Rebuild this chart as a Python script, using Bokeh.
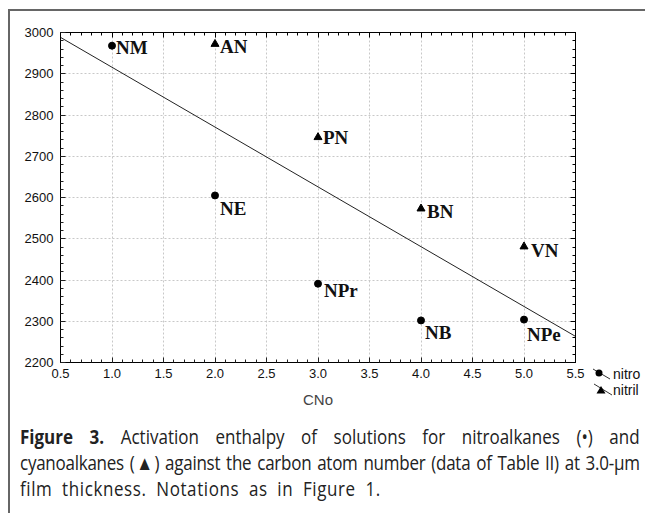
import numpy as np
from bokeh.plotting import figure
from bokeh.models import (Range1d, SingleIntervalTicker, NumeralTickFormatter, LinearAxis,
                          CustomJSTickFormatter, ColumnDataSource, Div)
from bokeh.layouts import column, row
from bokeh.core.properties import value
from bokeh.embed import file_html
from bokeh.resources import INLINE

# ---- data ----
nitro_x = [1, 2, 3, 4, 5]
nitro_y = [2968, 2605, 2391, 2302, 2304]
nitro_names = ["NM", "NE", "NPr", "NB", "NPe"]

nitril_x = [2, 3, 4, 5]
nitril_y = [2972, 2746, 2573, 2481]
nitril_names = ["AN", "PN", "BN", "VN"]

x_label = "CNo"
legend_labels = ["nitro", "nitril"]
caption_lines = [
    "<b>Figure 3.</b> Activation enthalpy of solutions for nitroalkanes (\u2022) and",
    "cyanoalkanes (\u25B2) against the carbon atom number (data of Table II) at 3.0-\u00B5m",
    "film thickness. Notations as in Figure 1.",
]

# label offsets (style, screen px)
label_offsets = {
    "NM": (4, 2), "NE": (5, 13), "NPr": (6, 7), "NB": (4, 12), "NPe": (3, 15),
    "AN": (5, 2), "PN": (5, 0), "BN": (6, 3), "VN": (7, 4),
}

X0, X1 = 0.5, 5.5
Y0, Y1 = 2200, 3000
FIG_H = 406

p = figure(width=575, height=FIG_H, output_backend="svg", toolbar_location=None,
           x_range=Range1d(X0, X1), y_range=Range1d(Y0, Y1),
           min_border_left=50, min_border_right=10, min_border_top=21, min_border_bottom=55)
p.background_fill_color = "white"
p.border_fill_color = "white"
p.outline_line_color = "black"
p.outline_line_width = 1

xt = SingleIntervalTicker(interval=0.5, num_minor_ticks=5)
yt = SingleIntervalTicker(interval=100, num_minor_ticks=5)
p.xaxis.ticker = xt
p.yaxis.ticker = yt
p.xaxis.formatter = NumeralTickFormatter(format="0.0")
p.yaxis.formatter = NumeralTickFormatter(format="0")
for ax in (p.xaxis[0], p.yaxis[0]):
    ax.major_tick_in = 5
    ax.major_tick_out = 0
    ax.minor_tick_in = 3
    ax.minor_tick_out = 0
    ax.major_tick_line_color = "#222"
    ax.minor_tick_line_color = "#222"
    ax.axis_line_color = "black"
    ax.major_label_text_font = "Liberation Sans"
    ax.major_label_text_font_size = "13px"
    ax.major_label_text_color = "#111"
p.xaxis.major_label_standoff = 6
p.yaxis.major_label_standoff = 7
p.xaxis.axis_label = x_label
p.xaxis.axis_label_text_font = "Liberation Sans"
p.xaxis.axis_label_text_font_style = "normal"
p.xaxis.axis_label_text_font_size = "15px"
p.xaxis.axis_label_standoff = 10

# mirrored ticks on top and right
blank = CustomJSTickFormatter(code="return ''")
top = LinearAxis(ticker=xt, formatter=blank, major_tick_in=5, major_tick_out=0,
                 minor_tick_in=3, minor_tick_out=0, major_label_text_font_size="1px")
right = LinearAxis(ticker=yt, formatter=blank, major_tick_in=5, major_tick_out=0,
                   minor_tick_in=3, minor_tick_out=0, major_label_text_font_size="1px")
p.add_layout(top, "above")
p.add_layout(right, "right")

p.grid.grid_line_color = "#c8c8c8"
p.grid.grid_line_dash = "2 2"
p.grid.grid_line_width = 1

# regression over all points
all_x = np.array(nitro_x + nitril_x, dtype=float)
all_y = np.array(nitro_y + nitril_y, dtype=float)
k, b = np.polyfit(all_x, all_y, 1)
p.line([X0, X1], [k * X0 + b, k * X1 + b], line_color="#222", line_width=1)

def lbl_src(xs, ys, names):
    return ColumnDataSource(dict(x=xs, y=ys, t=names,
                                 xo=[label_offsets[n][0] for n in names],
                                 yo=[label_offsets[n][1] for n in names]))

p.scatter(nitro_x, nitro_y, marker="circle", size=7, color="black")
p.scatter(nitril_x, nitril_y, marker="triangle", size=8, color="black")

for src in (lbl_src(nitro_x, nitro_y, nitro_names), lbl_src(nitril_x, nitril_y, nitril_names)):
    p.text(x="x", y="y", text="t", x_offset="xo", y_offset="yo", source=src,
           text_font=value("Liberation Serif"), text_font_style="bold",
           text_font_size="19px", text_baseline="middle", text_align="left",
           text_color="#111")

# ---- legend (HTML, to the right of the plot, level with the x tick labels) ----
leg_svgs = [
    '<svg width="28" height="16" style="vertical-align:top">'
    '<line x1="8" y1="3" x2="25" y2="13" stroke="#333" stroke-width="1"/>'
    '<circle cx="14" cy="7" r="3.5" fill="black"/></svg>',
    '<svg width="28" height="16" style="vertical-align:top">'
    '<line x1="9" y1="2" x2="27" y2="13" stroke="#333" stroke-width="1"/>'
    '<polygon points="16,4 20.5,11.5 11.5,11.5" fill="black"/></svg>',
]
leg_html = ('<div style="padding-top:355px;font-family:\'Liberation Sans\',sans-serif;'
            'font-size:14px;line-height:16px;color:#111;">'
            + "".join('<div style="height:16px;white-space:nowrap;">%s<span style="vertical-align:top">%s</span></div>'
                      % (s, t) for s, t in zip(leg_svgs, legend_labels))
            + '</div>')
leg = Div(text=leg_html, width=60, height=FIG_H, margin=0)

S = 0.85
cap_html = ('<div style="padding:7px 0 0 10px;">'
            '<div style="font-family:\'Open Sans\',sans-serif;font-size:20px;line-height:26px;'
            'color:#222;width:%dpx;transform:scaleX(%s);transform-origin:0 0;">' % (int(620 / S), S)
            + '<div style="text-align:justify;text-align-last:justify;white-space:nowrap;">%s</div>' % caption_lines[0]
            + '<div style="text-align:justify;text-align-last:justify;white-space:nowrap;letter-spacing:-0.3px;">%s</div>'
              % caption_lines[1]
            + '<div style="text-align:left;white-space:nowrap;word-spacing:5.5px;letter-spacing:0.7px;">%s</div>'
              % caption_lines[2]
            + '</div></div>')
cap = Div(text=cap_html, width=633, height=96, margin=0)

layout = column(row(p, leg), cap,
                styles={"border-left": "2px solid #666", "border-top": "2px solid #666",
                        "margin-left": "8px", "margin-top": "9px"})

open("out.html", "w").write(file_html(layout, INLINE))
